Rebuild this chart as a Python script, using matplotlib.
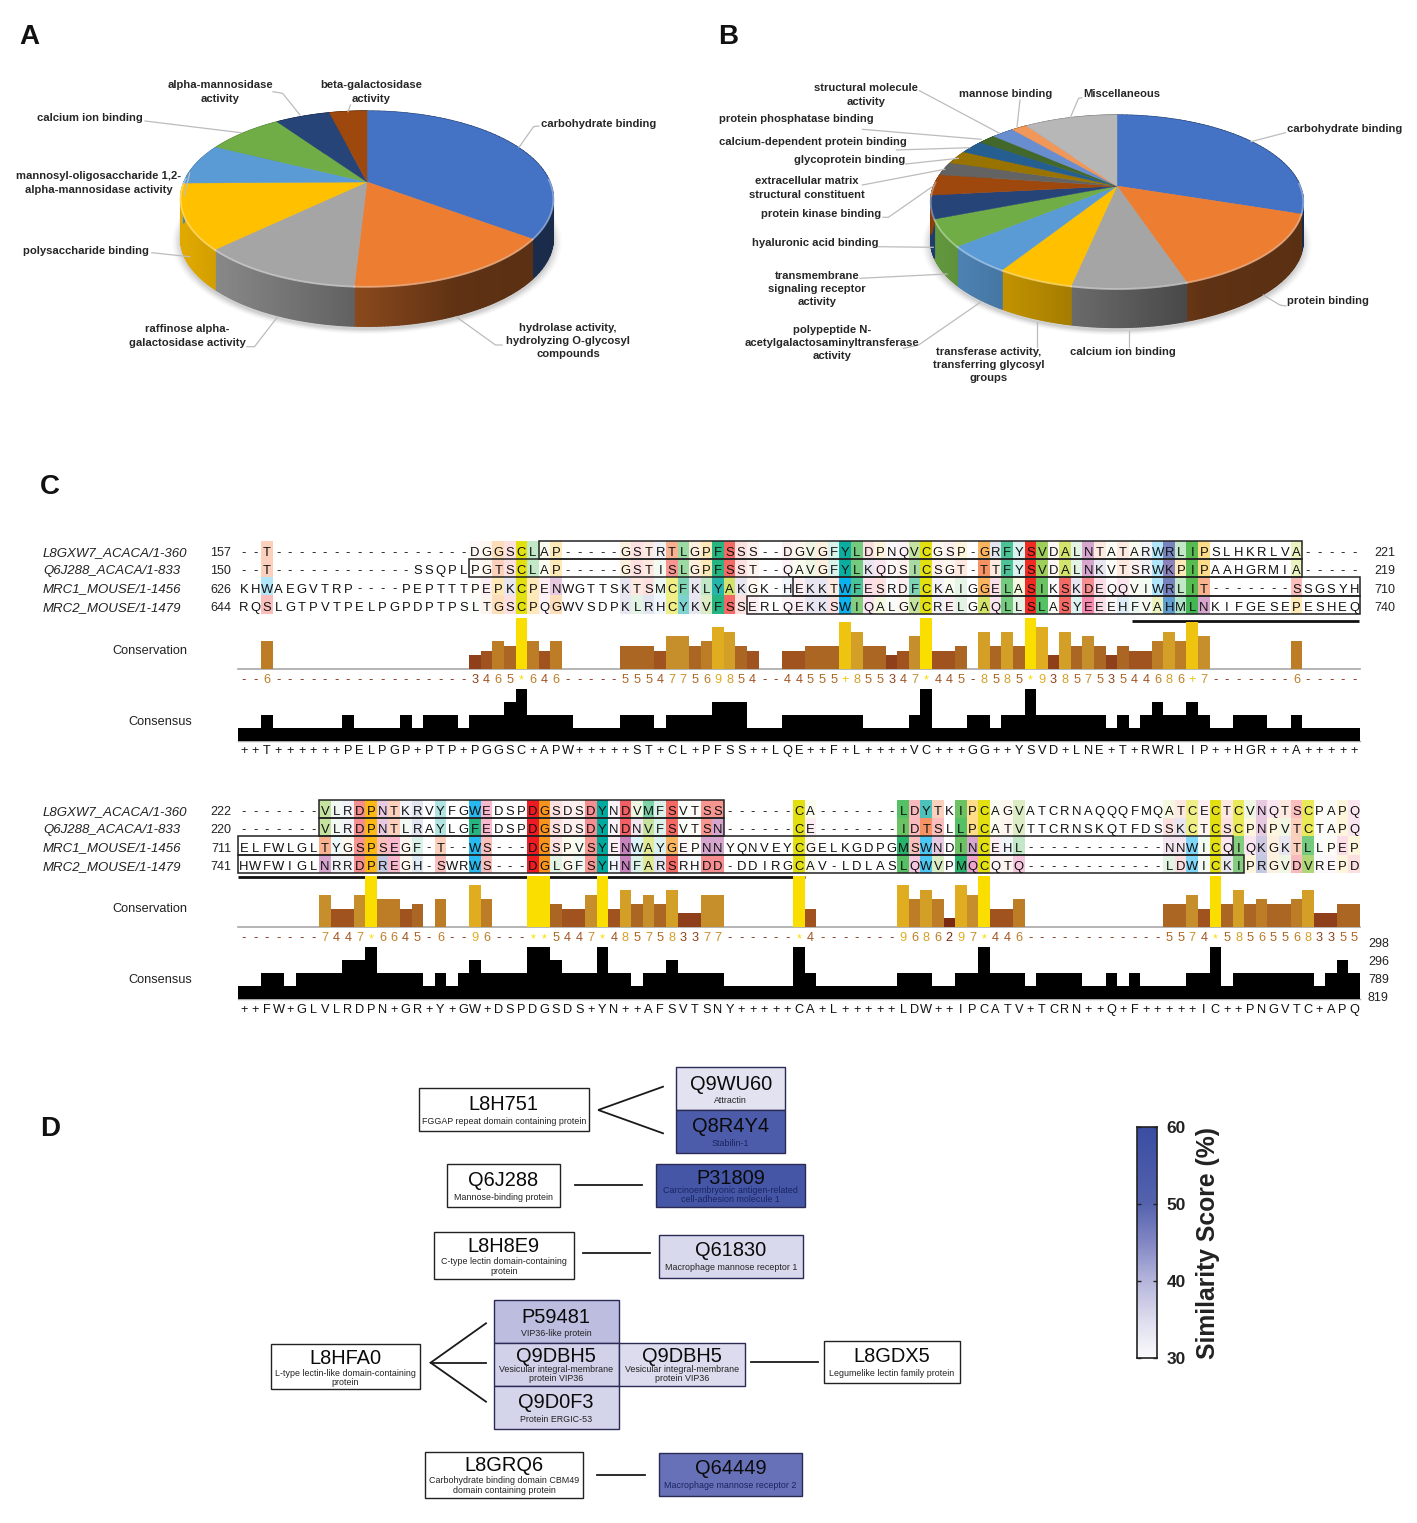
import numpy as np
import matplotlib
matplotlib.use('Agg')
import matplotlib.pyplot as plt
from matplotlib.collections import PolyCollection
from matplotlib.colors import LinearSegmentedColormap, to_rgb
from matplotlib.patches import Polygon, Rectangle

plt.rcParams['font.family'] = ['Liberation Sans', 'DejaVu Sans']

W, H = 1417, 1523

# panel A
a_names = ['carbohydrate binding', 'hydrolase activity,\nhydrolyzing O-glycosyl\ncompounds',
           'raffinose alpha-\ngalactosidase activity', 'polysaccharide binding',
           'mannosyl-oligosaccharide 1,2-\nalpha-mannosidase activity', 'calcium ion binding',
           'alpha-mannosidase\nactivity', 'beta-galactosidase\nactivity']
a_values = [35.2, 15.7, 11.9, 12.0, 7.6, 8.0, 5.7, 3.9]

# panel B
b_names = ['carbohydrate binding', 'protein binding', 'calcium ion binding',
           'transferase activity,\ntransferring glycosyl\ngroups',
           'polypeptide N-\nacetylgalactosaminyltransferase\nactivity',
           'transmembrane\nsignaling receptor\nactivity', 'hyaluronic acid binding',
           'protein kinase binding', 'extracellular matrix\nstructural constituent',
           'glycoprotein binding', 'calcium-dependent protein binding',
           'protein phosphatase binding', 'structural molecule\nactivity',
           'mannose binding', 'Miscellaneous']
b_values = [30.1, 14.8, 8.4, 5.6, 5.1, 5.0, 4.3, 3.9, 2.5, 2.5, 2.5, 1.8, 2.3, 1.6, 9.6]

pie_colors = ['#4472C4', '#ED7D31', '#A5A5A5', '#FFC000', '#5B9BD5', '#70AD47', '#264478', '#9E480E',
              '#636363', '#997300', '#255E91', '#43682B', '#698ED0', '#F1975A', '#B7B7B7']

# panel C
row_names = ['L8GXW7_ACACA/1-360', 'Q6J288_ACACA/1-833', 'MRC1_MOUSE/1-1456', 'MRC2_MOUSE/1-1479']

seq1 = ['--T-----------------DGGSCLAP-----GSTRTLGPFSSS--DGVGFYLDPNQVCGSP-GRFYSVDALNTATARWRLIPSLHKRLVA-----',
        '--T------------SSQPLPGTSCLAP-----GSTISLGPFSST--QAVGFYLKQDSICSGT-TTFYSVDALNKVTSRWKPIPAAHGRMIA-----',
        'KHWAEGVTRP----PEPTTTPEPKCPENWGTTSKTSMCFKLYAKGK-HEKKTWFESRDFCKAIGGELASIKSKDEQQVIWRLIT-------SSGSYH',
        'RQSLGTPVTPELPGPDPTPSLTGSCPQGWVSDPKLRHCYKVFSSERLQEKKSWIQALGVCRELGAQLLSLASYEEEHFVAHMLNKIFGESEPESHEQ']
start1 = [157, 150, 626, 644]
end1 = [221, 219, 710, 740]
cons1 = '--6-----------------3465*646-----555477569854--44555+855347*445-8585*9385753544686+7-------6-----'
prof1 = '11' '2' '111111' '2' '1111' '2' '1' '222' '1' '222' '3' '4' '2222' '1111' '222' '1' '2222' '333' \
        '111' '2222222' '1111' '2' '4' '111' '22' '1' '22' '4' '222222' '1' '2' '1' '2' '3' '22' '3' '2' \
        '11' '222' '11' '2' '11111'
label1 = '++T++++++PELPGP+PTP+PGGSC+APW+++++ST+CL+PFSS++LQE++F+L++++VC+++GG++YSVD+LNE+T+RWRLIP++HGR++A+++++'

seq2 = ['-------VLRDPNTKRVYFGWEDSPDGSDSDYNDVMFSVTSS------CA-------LDYTKIPCAGVATCRNAQQQFMQATCECTCVNQTSCPAPQ',
        '-------VLRDPNTLRAYLGFEDSPDGSDSDYNDNVFSVTSN------CE-------IDTSLLPCATVTTCRNSKQTFDSSKCTCSCPNPVTCTAPQ',
        'ELFWLGLTYGSPSEGF-T--WS---DGSPVSYENWAYGEPNNYQNVEYCGELKGDPGMSWNDINCEHL------------NNWICQIQKGKTLLPEP',
        'HWFWIGLNRRDPREGH-SWRWS---DGLGFSYHNFARSRHDD-DDIRGCAV-LDLASLQWVPMQCQTQ------------LDWICKIPRGVDVREPD']
start2 = [222, 220, 711, 741]
end2 = [298, 296, 789, 819]
cons2 = '-------7447*6645-6--96---**5447*4857583377------*4-------9686297*446------------5574*585655683355'
prof2 = '11' '22' '1' '2222' '33' '4' '2222' '1' '2' '1' '2' '3' '2222' '44' '3' '222' '4' '22' '1' '22' '3' \
        '2222' '111111' '4' '2' '1111111' '222' '11' '22' '4' '222' '1' '2222' '11' '2' '1' '2' '1111' '22' \
        '4' '1' '2222222' '1' '2' '3' '2'
label2 = '++FW+GLVLRDPN+GR+Y+GW+DSPDGSDS+YN++AFSVTSNY+++++CA+L+++++LDW++IPCATV+TCRN++Q+F+++++IC++PNGVTC+APQ'

residue_colors = {'A': '#c3d82e', 'R': '#3c4ea0', 'N': '#b04ea0', 'D': '#ed1c24', 'C': '#e2e010', 'Q': '#e0489a',
                  'E': '#ed145b', 'G': '#f7941d', 'H': '#1c75bc', 'I': '#50b848', 'K': '#5b4ea0', 'L': '#39b54a',
                  'M': '#00a651', 'F': '#00a86b', 'P': '#fdb913', 'S': '#ef2b23', 'T': '#f26522', 'W': '#00aeef',
                  'Y': '#00a99d', 'V': '#8dc63f'}
cons_score = {'-': 0, '2': 2, '3': 3, '4': 4, '5': 5, '6': 6, '7': 7, '8': 8, '9': 9, '+': 10, '*': 11}
cons_color = {'-': '#7a2a10', '2': '#7a2a10', '3': '#8f3f1a', '4': '#a0521f', '5': '#ab6623', '6': '#bd7d27',
              '7': '#c78f2b', '8': '#d49f26', '9': '#e0ad20', '+': '#efc410', '*': '#f9de00'}
shade_alpha = {'-': 0, '2': 0, '3': 0.03, '4': 0.07, '5': 0.14, '6': 0.3, '7': 0.5, '8': 0.7, '9': 0.85,
               '+': 0.95, '*': 1}

# panel D
prot_ids = ['Q9WU60', 'Q8R4Y4', 'P31809', 'Q61830', 'P59481', 'Q9DBH5', 'Q9D0F3', 'Q9DBH5', 'Q64449']
prot_desc = ['Attractin', 'Stabilin-1', 'Carcinoembryonic antigen-related\ncell-adhesion molecule 1',
             'Macrophage mannose receptor 1', 'VIP36-like protein',
             'Vesicular integral-membrane\nprotein VIP36', 'Protein ERGIC-53',
             'Vesicular integral-membrane\nprotein VIP36', 'Macrophage mannose receptor 2']
prot_scores = [34, 53, 56, 35.5, 39, 36.5, 36, 35, 48]
query_ids = ['L8H751', 'Q6J288', 'L8H8E9', 'L8HFA0', 'L8GDX5', 'L8GRQ6']
query_desc = ['FGGAP repeat domain containing protein', 'Mannose-binding protein',
              'C-type lectin domain-containing\nprotein', 'L-type lectin-like domain-containing\nprotein',
              'Legumelike lectin family protein', 'Carbohydrate binding domain CBM49\ndomain containing protein']
bar_ticks = [30, 40, 50, 60]

fig = plt.figure(figsize=(W / 100, H / 100), dpi=100)
ax = fig.add_axes([0, 0, 1, 1])
ax.set_xlim(0, W)
ax.set_ylim(H, 0)
ax.axis('off')


def sub_axes(x0, y0, x1, y1):
    sub = fig.add_axes([x0 / W, 1 - y1 / H, (x1 - x0) / W, (y1 - y0) / H])
    sub.axis('off')
    sub.patch.set_alpha(0)
    return sub


def wall_shade(rel_x):
    return np.interp(rel_x, [-1, -0.1, 0.5, 1], [0.88, 0.6, 0.4, 0.38])


def draw_pie(values, apex, wid, hgt, k, depth):
    cx, cy = apex
    frac = np.cumsum([0] + list(values)) / np.sum(values)

    def project(t):
        den = 1 + k * np.cos(t)
        return cx + wid * np.sin(t) / den, cy - hgt * np.cos(t) / den

    # soft shadow under the disc
    t = np.linspace(0, 2 * np.pi, 200)
    for grow, a in zip([1.045, 1.035, 1.025, 1.015, 1.005], [0.02, 0.03, 0.04, 0.05, 0.06]):
        x, y = project(t)
        x = cx + (x - cx) * grow
        y = cy + depth + 3 + (y - cy) * grow
        ax.add_patch(Polygon(np.c_[x, y], closed=True, fc='black', ec='none', alpha=a, zorder=1))

    for i in range(len(values)):
        base = np.array(to_rgb(pie_colors[i]))
        t = 2 * np.pi * np.linspace(frac[i], frac[i + 1], 60)
        x, y = project(t)
        quads = [[(x[j], y[j]), (x[j + 1], y[j + 1]), (x[j + 1], y[j + 1] + depth), (x[j], y[j] + depth)]
                 for j in range(len(t) - 1)]
        shades = [base * wall_shade((x[j] - cx) / wid) for j in range(len(t) - 1)]
        ax.add_collection(PolyCollection(quads, facecolors=shades, edgecolors=shades, linewidths=0.9, zorder=2))

    for i in range(len(values)):
        t = 2 * np.pi * np.linspace(frac[i], frac[i + 1], 60)
        x, y = project(t)
        ax.add_patch(Polygon(np.r_[[[cx, cy]], np.c_[x, y]], closed=True, fc=pie_colors[i],
                             ec=pie_colors[i], lw=0.3, zorder=3))
        front = np.cos(t) < 0.05
        if front.any():
            rim = 0.55 * np.array(to_rgb(pie_colors[i])) + 0.45
            ax.plot(x[front], y[front] + 0.5, color=rim, lw=1.3, alpha=0.8, zorder=4)


draw_pie(a_values, (367, 182), 183, 84.5, 0.19, 40)
draw_pie(b_values, (1117, 186), 183.2, 83.9, 0.1815, 39)

a_label_pos = [(599, 124), (568, 341), (187, 336), (86, 251), (99, 183), (90, 118), (220, 92), (371, 92)]
b_label_pos = [(1345, 129), (1328, 301), (1123, 352), (989, 365), (832, 343), (817, 289), (815, 243),
               (821, 214), (807, 188), (850, 160), (813, 142), (796, 119), (866, 95), (1006, 94), (1122, 94)]
for name, pos in list(zip(a_names, a_label_pos)) + list(zip(b_names, b_label_pos)):
    ax.text(pos[0], pos[1], name, ha='center', va='center', fontsize=8.1, fontweight='bold', color='#262626',
            linespacing=1.42, zorder=6)

leaders = [
    [(538.8, 126), (533.5, 126.7), (519, 147.3)], [(502, 345), (495.5, 345), (456, 316.7)],
    [(246.9, 346.7), (254.5, 346.7), (277.7, 316.7)], [(151.8, 252.7), (189.7, 256.7)],
    [(189.7, 173), (184.4, 196)], [(145, 121), (241, 132.7)],
    [(273, 91.7), (282.6, 93.3), (300, 115)], [(350.4, 105), (348, 111.7)],
    [(1285.3, 132.7), (1251, 141.7)], [(1286, 306), (1279.8, 305), (1263.3, 295)],
    [(1128.9, 346.7), (1128.9, 330.7)], [(1037, 346.7), (1037, 321.7)],
    [(903.5, 348.3), (918.6, 345), (981.2, 301.7)], [(860, 278.3), (947, 274)],
    [(878.3, 246.7), (933.2, 247.3)], [(882.9, 217.3), (888.4, 217.3), (933.2, 186)],
    [(862.3, 185), (944.6, 169.3)], [(905.8, 164), (958.3, 158.3)], [(896.6, 150), (969.8, 147.7)],
    [(862.3, 129.3), (981.2, 139.3)], [(919.5, 90.7), (999.5, 133.3)], [(1020, 100), (1017, 126.7)],
    [(1081.8, 97.7), (1078.6, 98.3), (1070.4, 117.3)],
]
for pts in leaders:
    ax.plot(*zip(*pts), color='#bcbcbc', lw=0.9, zorder=5)


def draw_block(seqs, starts, ends, cons, prof, consensus, ytop, ybot, boxes, cons_box, prof_box,
               cons_y, label_y, rule, right_labels):
    ncol = len(seqs[0])
    x0, x1 = 238, 1360

    # alignment cells
    sub = sub_axes(x0, ytop, x1, ybot)
    sub.set_xlim(0, ncol)
    sub.set_ylim(4, 0)
    img = np.ones((4, ncol, 3))
    for r, s in enumerate(seqs):
        for c, ch in enumerate(s):
            if ch != '-':
                a = shade_alpha[cons[c]]
                img[r, c] = a * np.array(to_rgb(residue_colors[ch])) + (1 - a)
    sub.imshow(img, extent=[0, ncol, 4, 0], aspect='auto', interpolation='nearest')
    for r, s in enumerate(seqs):
        for c, ch in enumerate(s):
            sub.text(c + 0.5, r + 0.67, ch, ha='center', va='center', fontsize=9.4, color='#111111')
    for r, c0, c1 in boxes:
        sub.add_patch(Rectangle((c0 - 1, r), c1 - c0 + 1, 1, fc='none', ec='#222222', lw=1.1, clip_on=False))

    for r, name in enumerate(row_names):
        yt = ytop + (r + 0.67) * (ybot - ytop) / 4
        ax.text(43, yt, name, ha='left', va='center', fontsize=9.5, fontstyle='italic', color='#222222')
        ax.text(231, yt, str(starts[r]), ha='right', va='center', fontsize=9, color='#222222')
        if right_labels == 'row':
            ax.text(1374, yt, str(ends[r]), ha='left', va='center', fontsize=9, color='#222222')

    if rule is not None:
        ax.plot(rule[:2], [rule[2], rule[2]], color='#111111', lw=2, solid_capstyle='butt')

    # conservation histogram
    sub = sub_axes(x0, cons_box[0], x1, cons_box[1])
    sub.set_xlim(0, ncol)
    sub.set_ylim(0, 11)
    sub.bar(np.arange(ncol) + 0.5, [cons_score[ch] for ch in cons], width=1.0,
            color=[cons_color[ch] for ch in cons], linewidth=0)
    ax.plot([x0, x1], [cons_box[1], cons_box[1]], color='#a8a8a8', lw=1.2)
    for c, ch in enumerate(cons):
        ax.text(x0 + (c + 0.5) * (x1 - x0) / ncol, cons_y + (1 if ch == '*' else 0), ch, ha='center', va='center',
                fontsize=9.2, color=cons_color[ch])

    # consensus histogram
    sub = sub_axes(x0, prof_box[0], x1, prof_box[1])
    sub.set_xlim(0, ncol)
    sub.set_ylim(0, 4)
    sub.stairs([int(ch) for ch in prof], np.arange(ncol + 1), fill=True, color='black', linewidth=0)
    ax.plot([x0, x1], [prof_box[1], prof_box[1]], color='#a8a8a8', lw=1.0)
    for c, ch in enumerate(consensus):
        ax.text(x0 + (c + 0.5) * (x1 - x0) / ncol, label_y, ch, ha='center', va='center', fontsize=9.2,
                color='#111111')


draw_block(seq1, start1, end1, cons1, prof1, label1, 540.5, 614, [(0, 27, 92), (1, 21, 92), (2, 49, 97), (3, 45, 97)],
           (617.7, 669.3), (689.3, 741), 679.7, 751, (1132, 1359, 620.7), 'row')
draw_block(seq2, start2, end2, cons2, prof2, label2, 800, 872.7, [(0, 8, 42), (1, 8, 42), (2, 1, 86), (3, 1, 87)],
           (876, 927.3), (947, 999), 938, 1009.5, (238, 805, 877.3), None)
for val, yy in zip(end2, [943, 961, 979, 997]):
    ax.text(1368, yy + 0.5, str(val), ha='left', va='center', fontsize=9, color='#222222')
for yy in [650, 908]:
    ax.text(150, yy + 0.5, 'Conservation', ha='center', va='center', fontsize=9.2, color='#222222')
for yy in [721, 979]:
    ax.text(160, yy + 0.5, 'Consensus', ha='center', va='center', fontsize=9.2, color='#222222')

for letter, xx, yy in [('A', 19, 37), ('B', 718, 37), ('C', 40, 487), ('D', 40, 1129)]:
    ax.text(xx, yy, letter, ha='left', va='center', fontsize=20, fontweight='bold', color='#111111')

# panel D boxes
sim_cmap = LinearSegmentedColormap.from_list(
    'sim', [(0, '#fbfbfd'), (1 / 6, '#dcdcee'), (1 / 3, '#b5b5dc'), (0.5, '#8287c4'), (2 / 3, '#5563ae'), (1, '#3a4da2')])

prot_boxes = [(676, 1067.3, 785.4, 1110.3), (676, 1110.3, 785.4, 1153.3), (656, 1164, 805.4, 1207),
              (658.8, 1235.3, 802.6, 1278), (493.5, 1300.3, 618.7, 1343.3), (493.5, 1343.3, 618.7, 1386.3),
              (493.5, 1386.3, 618.7, 1429.3), (618.7, 1343.3, 745, 1386.3), (658.8, 1452.7, 802, 1495.7)]
prot_text_y = [(1082, [1100]), (1125, [1143.3]), (1176, [1190, 1199]), (1248.7, [1267]), (1315.3, [1333.3]),
               (1355, [1369, 1378]), (1401, [1419]), (1355, [1369, 1378]), (1466.7, [1485])]
query_boxes = [(419, 1087.7, 588.5, 1130.7), (447, 1164, 560, 1206.7), (434, 1232.3, 573.6, 1279),
               (270.5, 1343.7, 420.4, 1389.3), (823.6, 1340.7, 960, 1383.3), (424.6, 1452.3, 583.3, 1497.7)]
query_text_y = [(1102.3, [1120.7]), (1178.3, [1196.7]), (1244.7, [1261.3, 1271.3]), (1356.7, [1373.3, 1382]),
                (1354, [1372.7]), (1463.3, [1480, 1490])]


def draw_box(box, name, desc, ys, face, edge, txt):
    ax.add_patch(Rectangle((box[0], box[1]), box[2] - box[0], box[3] - box[1], fc=face, ec=edge, lw=1.0, zorder=2))
    xc = (box[0] + box[2]) / 2
    ax.text(xc, ys[0] + 2, name, ha='center', va='center', fontsize=14.4, color='#0a0a0a', zorder=3)
    for line, yy in zip(desc.split('\n'), ys[1]):
        ax.text(xc, yy + 0.5, line, ha='center', va='center', fontsize=6.4, color=txt, zorder=3)


for i in range(len(prot_ids)):
    dark = prot_scores[i] > 45
    draw_box(prot_boxes[i], prot_ids[i], prot_desc[i], prot_text_y[i], sim_cmap((prot_scores[i] - 30) / 30),
             '#2a2a55', '#1b2460' if dark else '#222222')
for i in range(len(query_ids)):
    draw_box(query_boxes[i], query_ids[i], query_desc[i], query_text_y[i], 'white', '#222222', '#222222')

links = [[(663, 1086.7), (598.2, 1110), (663, 1133.3)], [(574.5, 1185), (642, 1185)], [(583, 1253.3), (650.4, 1253.3)],
         [(486, 1323.3), (430.6, 1362.7), (486, 1401.7)], [(430.6, 1362.7), (486, 1362.7)], [(751, 1362), (818, 1362)],
         [(596.8, 1475), (644.8, 1475)]]
for pts in links:
    ax.plot(*zip(*pts), color='#1a1a1a', lw=1.3, solid_joinstyle='miter')

# similarity colour bar
cax = sub_axes(1136.7, 1126.7, 1156.7, 1358.3)
cax.imshow(np.linspace(1, 0, 256)[:, None], extent=[0, 1, bar_ticks[0], bar_ticks[-1]], aspect='auto', cmap=sim_cmap)
cax.axis('on')
cax.set_xticks([])
cax.set_yticks(bar_ticks)
cax.yaxis.tick_right()
cax.tick_params(axis='y', direction='in', length=3, width=1.0, labelsize=12.5, pad=7, labelcolor='#222222',
                colors='#222222', left=True, right=True)
for tick in cax.yaxis.get_major_ticks():
    if tick.get_loc() in (bar_ticks[0], bar_ticks[-1]):
        tick.tick1line.set_visible(False)
        tick.tick2line.set_visible(False)
for lab in cax.get_yticklabels():
    lab.set_fontweight('bold')
for spine in cax.spines.values():
    spine.set_linewidth(1.2)
    spine.set_color('#222222')
ax.text(1208, 1243, 'Similarity Score (%)', rotation=90, ha='center', va='center', fontsize=17.8, fontweight='bold',
        color='#222222')

fig.savefig('out.png', dpi=100)
plt.close(fig)
